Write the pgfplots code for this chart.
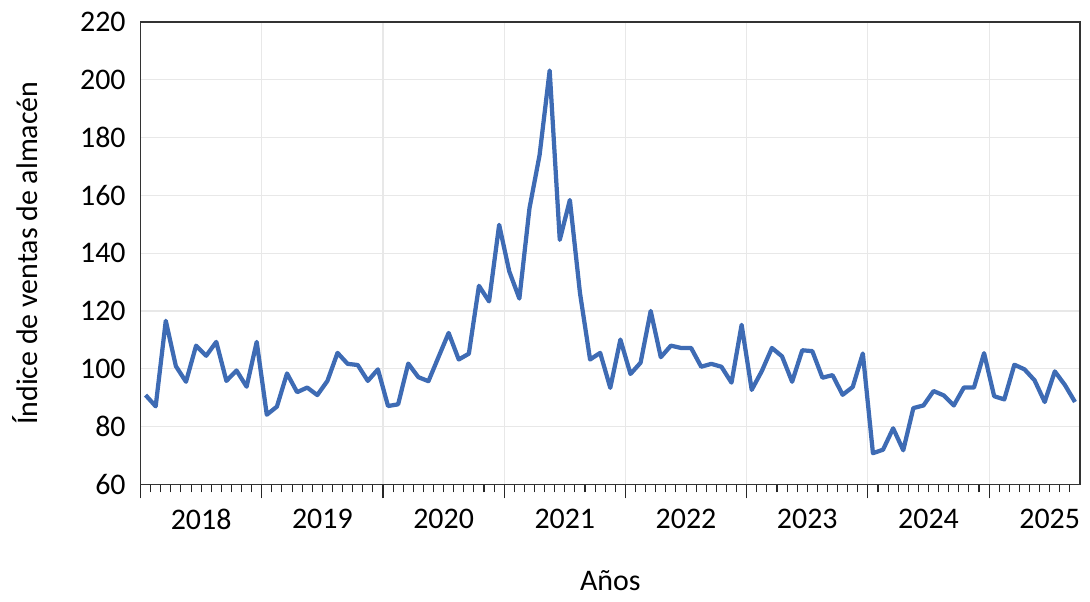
\documentclass[border=0pt]{standalone}
\usepackage{fontspec}
\setmainfont{Carlito}
\usepackage{pgfplots}
\pgfplotsset{compat=1.18}
\usepackage{pgfplotstable}

\definecolor{serie}{RGB}{62,107,180}
\definecolor{rejilla}{RGB}{232,232,232}

% indice mensual, ene 2018 = 0 (punto a mitad de mes)
\pgfplotstableread{
m v
0 90.9
1 87.0
2 116.6
3 100.9
4 95.5
5 108.0
6 104.5
7 109.3
8 95.8
9 99.4
10 93.8
11 109.3
12 84.1
13 86.9
14 98.4
15 91.9
16 93.5
17 90.9
18 95.8
19 105.5
20 101.7
21 101.3
22 95.8
23 99.8
24 87.1
25 87.7
26 101.8
27 97.1
28 95.7
29 104.1
30 112.4
31 103.2
32 105.2
33 128.7
34 123.3
35 149.8
36 133.7
37 124.3
38 155.5
39 173.9
40 203.2
41 144.6
42 158.4
43 126.2
44 103.2
45 105.5
46 93.4
47 110.1
48 98.2
49 102.1
50 120.0
51 104.0
52 108.0
53 107.2
54 107.2
55 100.7
56 101.7
57 100.7
58 95.2
59 115.2
60 92.7
61 99.2
62 107.2
63 104.3
64 95.5
65 106.4
66 106.1
67 96.9
68 97.8
69 91.0
70 93.7
71 105.3
72 70.8
73 72.0
74 79.4
75 71.8
76 86.4
77 87.3
78 92.3
79 90.8
80 87.3
81 93.5
82 93.5
83 105.4
84 90.5
85 89.4
86 101.4
87 99.8
88 96.0
89 88.5
90 99.1
91 94.4
92 88.5
}\ventas

\begin{document}
\fontsize{22.5}{27}\selectfont
\begin{tikzpicture}
\begin{axis}[
    scale only axis,
    width=707pt, height=348pt,
    xmin=0, xmax=93,
    ymin=60, ymax=220,
    ytick={60,80,...,220},
    xtick={0,12,...,84},
    xticklabels={},
    minor xtick={1,...,92},
    extra x ticks={6,18,...,90},
    extra x tick labels={2018,2019,2020,2021,2022,2023,2024,2025},
    extra x tick style={grid=none, major tick length=0pt,
        xticklabel style={yshift=-11pt}},
    tick pos=left,
    tick align=outside,
    major tick length=10.5pt,
    minor tick length=6pt,
    ytick style={draw=none},
    yticklabel style={xshift=7pt},
    tick style={black!85, line width=0.8pt},
    xmajorgrids, ymajorgrids,
    major grid style={rejilla, line width=0.9pt},
    axis line style={black!80, line width=1pt},
    /pgf/number format/assume math mode=true,
    xlabel={Años},
    ylabel={Índice de ventas de almacén},
    xlabel style={at={(axis description cs:0.5,-0.209)}, anchor=center},
    ylabel style={at={(axis description cs:-0.123,0.5)}, anchor=center},
]
\addplot[serie, line width=3.2pt, line join=round] table[x expr=\thisrow{m}+0.5, y=v] {\ventas};
\end{axis}
\path (current axis.south west) ++(-105.75pt,-86.25pt) rectangle ++(817.5pt,450.75pt);
\end{tikzpicture}
\end{document}
